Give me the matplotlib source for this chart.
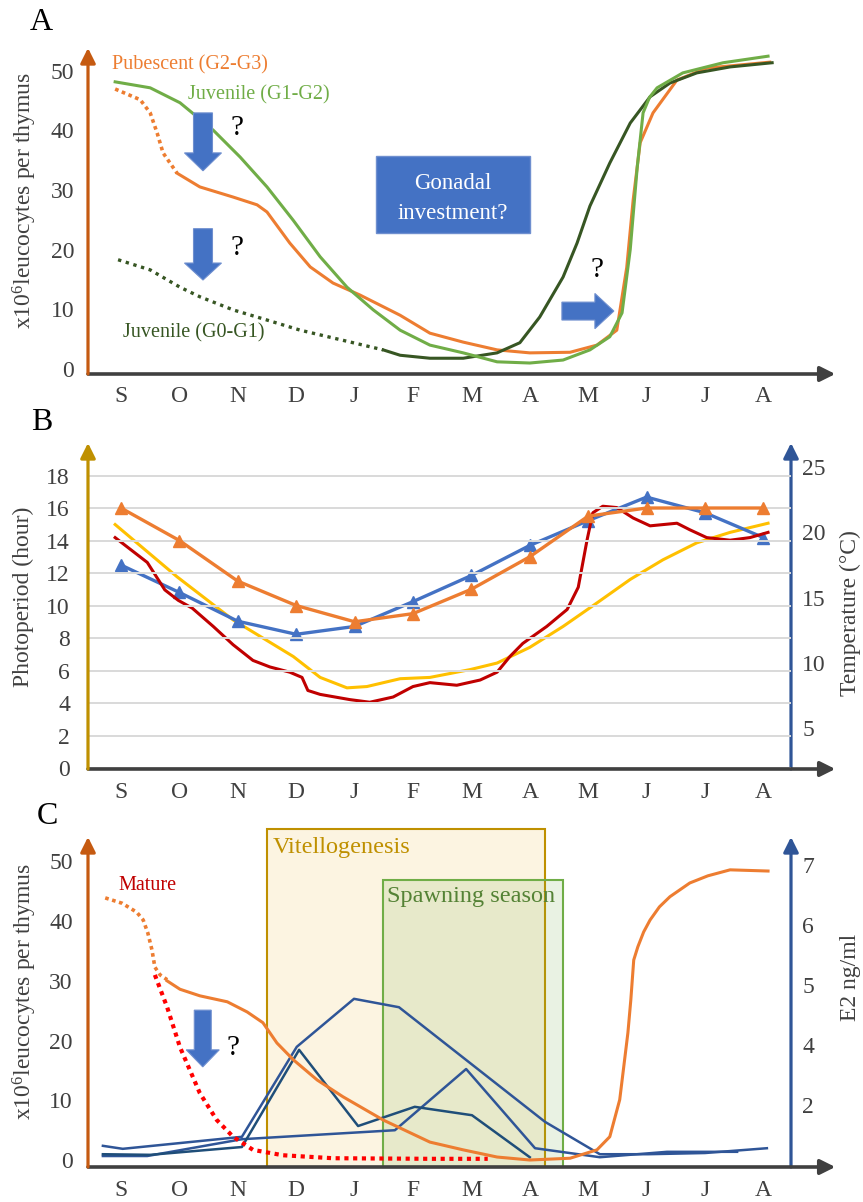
import numpy as np
import matplotlib
matplotlib.use('Agg')
import matplotlib.pyplot as plt
from matplotlib.patches import Rectangle, FancyArrow

plt.rcParams['font.family'] = ['Liberation Serif', 'DejaVu Serif']
plt.rcParams['mathtext.fontset'] = 'custom'
plt.rcParams['mathtext.rm'] = 'Liberation Serif'
plt.rcParams['mathtext.default'] = 'regular'

# ---------------- data ----------------
months = ['S', 'O', 'N', 'D', 'J', 'F', 'M', 'A', 'M', 'J', 'J', 'A']
month_idx = list(range(12))

# Panel A  (x = month index from September, y = x10^6 leucocytes per thymus)
juv_g1g2_x = [-0.10, 0.50, 1.01, 1.58, 2.04, 2.50, 2.95, 3.41, 3.87, 4.32, 4.78, 5.29, 5.86,
              6.44, 7.00, 7.57, 8.03, 8.37, 8.58, 8.72, 8.84, 8.94, 9.05, 9.18, 9.62, 10.31, 11.08]
juv_g1g2_y = [48.1, 47.1, 44.6, 40.0, 35.5, 30.5, 24.9, 18.8, 13.7, 9.9, 6.5, 4.0, 2.7,
              1.2, 1.0, 1.5, 3.2, 5.4, 9.4, 20.0, 33.8, 42.9, 45.5, 47.1, 49.6, 51.3, 52.4]

pub_dot_x = [-0.10, 0.33, 0.50, 0.62, 0.72, 0.96]
pub_dot_y = [46.9, 45.1, 42.9, 39.5, 36.2, 32.8]
pub_x = [0.96, 1.35, 1.92, 2.33, 2.50, 2.65, 2.89, 3.24, 3.63, 4.09, 4.78, 5.29, 5.86, 6.44,
         7.00, 7.69, 8.15, 8.49, 8.66, 8.77, 8.89, 9.11, 9.52, 10.03, 11.11]
pub_y = [32.8, 30.5, 28.8, 27.5, 26.3, 24.3, 21.1, 17.1, 14.4, 12.4, 9.0, 6.0, 4.5, 3.2,
         2.7, 2.8, 4.0, 6.5, 17.0, 28.3, 37.9, 42.9, 48.4, 50.4, 51.4]

juv_g0g1_dot_x = [-0.05, 0.50, 1.01, 1.35, 1.92, 2.50, 3.07, 3.63, 4.49]
juv_g0g1_dot_y = [18.3, 16.6, 13.7, 12.1, 9.9, 8.2, 6.5, 5.2, 3.2]
juv_g0g1_x = [4.49, 4.78, 5.29, 5.86, 6.44, 6.83, 7.17, 7.57, 7.81, 8.03, 8.37, 8.72,
              9.06, 9.40, 9.86, 10.43, 11.15]
juv_g0g1_y = [3.2, 2.3, 1.8, 1.8, 2.7, 4.4, 8.7, 15.4, 21.1, 27.3, 34.5, 41.2,
              45.6, 47.9, 49.6, 50.6, 51.3]

# Panel B
photoperiod = [16, 14, 11.5, 10, 9, 9.5, 11, 13, 15.5, 16, 16, 16]
temp_blue = [17.5, 15.4, 13.2, 12.2, 12.8, 14.7, 16.7, 19.0, 20.9, 22.7, 21.5, 19.6]
temp_red_x = [-0.10, 0.45, 0.75, 0.98, 1.22, 1.58, 1.92, 2.26, 2.55, 2.89, 3.10, 3.20, 3.41,
              3.92, 4.26, 4.66, 5.00, 5.29, 5.75, 6.15, 6.44, 6.66, 6.88, 7.29, 7.64, 7.83,
              7.98, 8.08, 8.25, 8.49, 8.77, 9.06, 9.52, 9.74, 10.03, 10.43, 10.77, 11.08]
temp_red_y = [19.6, 17.7, 15.6, 14.8, 14.2, 12.8, 11.4, 10.2, 9.7, 9.3, 8.9, 7.9, 7.6,
              7.2, 7.0, 7.4, 8.2, 8.5, 8.3, 8.7, 9.3, 10.5, 11.5, 12.8, 14.1, 15.8,
              19.4, 21.5, 22.0, 21.9, 21.1, 20.5, 20.7, 20.2, 19.6, 19.4, 19.6, 20.0]
temp_yel_x = [-0.10, 0.96, 1.92, 2.95, 3.41, 3.87, 4.21, 4.78, 5.29, 5.98, 6.44, 7.00,
              7.57, 8.15, 8.72, 9.28, 9.86, 10.43, 11.08]
temp_yel_y = [20.6, 16.6, 13.3, 10.5, 8.9, 8.1, 8.2, 8.8, 8.9, 9.5, 10.0, 11.2,
              12.8, 14.6, 16.4, 17.9, 19.2, 20.0, 20.7]

# Panel C
mat_dot_x = [-0.27, 0.02, 0.27, 0.38, 0.46, 0.53, 0.58, 0.67, 0.79]
mat_dot_y = [43.9, 43.0, 41.5, 40.2, 38.0, 35.2, 32.3, 31.0, 30.2]
mat_x = [0.79, 1.01, 1.35, 1.82, 2.16, 2.43, 2.67, 2.95, 3.36, 3.80, 4.49, 5.29, 5.86, 6.44,
         7.00, 7.69, 8.15, 8.37, 8.54, 8.68, 8.73, 8.78, 8.85, 8.95, 9.06, 9.22, 9.40, 9.74,
         10.05, 10.43, 11.08]
mat_y = [30.0, 28.6, 27.5, 26.5, 24.8, 23.0, 19.6, 16.8, 13.4, 10.6, 6.7, 3.0, 1.7, 0.5,
         0.0, 0.3, 1.7, 3.9, 10.1, 21.3, 26.8, 33.5, 35.7, 38.2, 40.2, 42.4, 44.1, 46.4,
         47.6, 48.6, 48.4]
red_x = [0.58, 0.79, 1.01, 1.35, 1.64, 1.92, 2.26, 2.77, 3.63, 5.29, 6.28]
red_y = [31.0, 25.6, 18.9, 11.2, 6.7, 3.9, 1.7, 0.8, 0.3, 0.2, 0.2]

# E2 curves, in positions of the right-hand axis (its lowest label "2" sits at position 3)
e2_1_x = [-0.31, 0.03, 2.07, 3.01, 3.99, 4.76, 7.26, 8.20, 9.02, 10.00, 11.06]
e2_1_y = [2.32, 2.27, 2.47, 3.97, 4.77, 4.63, 2.72, 2.18, 2.18, 2.20, 2.28]
e2_2_x = [-0.31, 0.50, 2.07, 3.05, 4.06, 5.03, 6.01, 7.00]
e2_2_y = [2.18, 2.17, 2.30, 3.92, 2.65, 2.97, 2.83, 2.13]
e2_3_x = [-0.31, 0.45, 2.07, 4.69, 5.91, 7.09, 8.20, 9.35, 10.55]
e2_3_y = [2.15, 2.15, 2.43, 2.58, 3.60, 2.28, 2.13, 2.22, 2.22]
e2_ticks = [3, 4, 5, 6, 7]
e2_ticklabels = ['2', '4', '5', '6', '7']

vit_span = (2.50, 7.26)
spawn_span = (4.49, 7.57)

# ---------------- figure ----------------
W, H = 863, 1202
fig = plt.figure(figsize=(W / 100, H / 100), dpi=100)
TXT = '#404040'
ORANGE, GREEN, DKGREEN = '#ED7D31', '#70AD47', '#375623'
BLUE, NAVY = '#4472C4', '#2F5597'
XMIN, XMAX = -0.565, 11.473


def px_axes(left, top, right, bottom):
    return fig.add_axes([left / W, 1 - bottom / H, (right - left) / W, (bottom - top) / H])


def axis_arrow(ax, xy, xytext, color, lw=2.3):
    ax.annotate('', xy=xy, xytext=xytext, xycoords='axes fraction',
                arrowprops=dict(arrowstyle='-|>,head_length=0.9,head_width=0.45',
                                lw=lw, color=color, shrinkA=0, shrinkB=0))


def style(ax, left_color, ypad):
    for s in ax.spines.values():
        s.set_visible(False)
    ax.set_xlim(XMIN, XMAX)
    ax.set_xticks(month_idx)
    ax.set_xticklabels(months)
    ax.tick_params(axis='x', length=0, pad=9, labelsize=17, labelcolor=TXT)
    ax.tick_params(axis='y', length=0, pad=ypad, labelsize=17, labelcolor=TXT)
    axis_arrow(ax, (1.063, 0), (0, 0), '#404040', lw=2.6)
    axis_arrow(ax, (0, 1), (0, 0), left_color)


def block_arrow(ax, x, y, dx, dy, w, hw, hl):
    ax.add_patch(FancyArrow(x, y, dx, dy, width=w, head_width=hw, head_length=hl,
                            length_includes_head=True, facecolor=BLUE,
                            edgecolor='#6F8FCF', lw=0.8, zorder=5))


# ---- Panel A ----
axA = px_axes(88, 48, 791, 374)
style(axA, '#C55A11', 10)
axA.set_ylim(-0.84, 53.77)
axA.set_yticks(range(0, 51, 10))
axA.plot(pub_dot_x, pub_dot_y, color=ORANGE, lw=2.6, ls=(0, (1, 1)))
axA.plot(pub_x, pub_y, color=ORANGE, lw=2.2)
axA.plot(juv_g0g1_dot_x, juv_g0g1_dot_y, color=DKGREEN, lw=2.4, ls=(0, (1, 1.4)))
axA.plot(juv_g0g1_x, juv_g0g1_y, color=DKGREEN, lw=2.2)
axA.plot(juv_g1g2_x, juv_g1g2_y, color=GREEN, lw=2.2)
axA.text(-0.15, 50.9, 'Pubescent (G2-G3)', color=ORANGE, fontsize=14.5, va='center')
axA.text(1.14, 45.9, 'Juvenile (G1-G2)', color=GREEN, fontsize=14.5, va='center')
axA.text(0.03, 6.0, 'Juvenile (G0-G1)', color=DKGREEN, fontsize=14.5, va='center')
block_arrow(axA, 1.404, 42.9, 0, -9.7, 0.325, 0.634, 3.0)
block_arrow(axA, 1.404, 23.5, 0, -8.6, 0.325, 0.634, 2.85)
block_arrow(axA, 7.55, 9.7, 0.89, 0, 3.0, 5.9, 0.325)
for qx, qy in [(1.99, 40.4), (1.99, 20.3), (8.15, 16.6)]:
    axA.text(qx, qy, '?', fontsize=21, ha='center', va='center', color='black')
axA.add_patch(Rectangle((4.37, 22.8), 2.63, 12.9, facecolor=BLUE, edgecolor='#6F8FCF',
                        lw=1, zorder=4))
axA.text(5.685, 31.0, 'Gonadal', color='white', fontsize=16.5, ha='center', va='center', zorder=6)
axA.text(5.685, 26.1, 'investment?', color='white', fontsize=16.5, ha='center', va='center', zorder=6)

# ---- Panel B ----
axB = px_axes(88, 443, 791, 769)
axB2 = axB.twinx()
style(axB, '#BF9000', 13)
axB.set_ylim(-0.06, 20.0)
axB.set_yticks(range(0, 19, 2))
axB.grid(axis='y', color='#D9D9D9', lw=1.4)
axB.set_axisbelow(True)
for s in axB2.spines.values():
    s.set_visible(False)
axB2.set_ylim(1.89, 26.84)
axB2.set_yticks([5, 10, 15, 20, 25])
axB2.tick_params(axis='y', length=0, pad=8, labelsize=17, labelcolor=TXT)
axis_arrow(axB2, (1, 1), (1, 0), NAVY)
axB2.plot(temp_yel_x, temp_yel_y, color='#FFC000', lw=2.2)
axB2.plot(month_idx, temp_blue, color=BLUE, lw=2.4, marker='^', ms=8)
axB2.plot(temp_red_x, temp_red_y, color='#C00000', lw=2.2)
axB.plot(month_idx, photoperiod, color=ORANGE, lw=2.4, marker='^', ms=8)
axB.set_zorder(axB2.get_zorder() + 1)
axB.patch.set_visible(False)

# ---- Panel C ----
axC = px_axes(88, 837, 791, 1167)
axC2 = axC.twinx()
style(axC, '#C55A11', 11)
axC.set_ylim(-1.17, 54.10)
axC.set_yticks(range(0, 51, 10))
for s in axC2.spines.values():
    s.set_visible(False)
axC2.set_ylim(1.967, 7.467)
axC2.set_yticks(e2_ticks)
axC2.set_yticklabels(e2_ticklabels)
axC2.tick_params(axis='y', length=0, pad=8, labelsize=17, labelcolor=TXT)
axis_arrow(axC2, (1, 1), (1, 0), NAVY)
tr = axC2.get_xaxis_transform()
axC2.add_patch(Rectangle((vit_span[0], 0), vit_span[1] - vit_span[0], 1.024, transform=tr,
                         facecolor='#FCF4E1', edgecolor='#BF9000', lw=1.5, clip_on=False))
axC2.add_patch(Rectangle((spawn_span[0], 0), spawn_span[1] - spawn_span[0], 0.87, transform=tr,
                         facecolor=(0.44, 0.68, 0.28, 0.15), edgecolor='#70AD47', lw=1.5,
                         clip_on=False))
axC2.text(2.60, 0.967, 'Vitellogenesis', transform=tr, color='#BF9000', fontsize=17.5, va='center')
axC2.text(4.55, 0.821, 'Spawning season', transform=tr, color='#548235', fontsize=17.5, va='center')
axC2.plot(e2_3_x, e2_3_y, color=NAVY, lw=1.8)
axC2.plot(e2_2_x, e2_2_y, color='#1F4E79', lw=1.8)
axC2.plot(e2_1_x, e2_1_y, color=NAVY, lw=1.8)
axC.set_zorder(axC2.get_zorder() + 1)
axC.patch.set_visible(False)
axC.plot(mat_dot_x, mat_dot_y, color=ORANGE, lw=2.6, ls=(0, (1, 1)))
axC.plot(mat_x, mat_y, color=ORANGE, lw=2.2)
axC.plot(red_x, red_y, color='#FF0000', lw=3.0, ls=(0, (1, 1.1)))
axC.text(-0.05, 46.0, 'Mature', color='#C00000', fontsize=14.5, va='center')
block_arrow(axC, 1.40, 25.1, 0, -9.5, 0.29, 0.565, 2.85)
axC.text(1.92, 18.8, '?', fontsize=21, ha='center', va='center', color='black')

# ---- axis titles and panel letters ----
ylab = 'x10$^{6}$leucocytes per thymus'
fig.text(25 / W, 1 - 201 / H, ylab, rotation=90, ha='center', va='center', fontsize=17, color=TXT)
fig.text(23 / W, 1 - 597 / H, 'Photoperiod (hour)', rotation=90, ha='center', va='center',
         fontsize=17, color=TXT)
fig.text(850 / W, 1 - 613 / H, 'Temperature (°C)', rotation=90, ha='center', va='center',
         fontsize=17, color=TXT)
fig.text(25 / W, 1 - 992 / H, ylab, rotation=90, ha='center', va='center', fontsize=17, color=TXT)
fig.text(850 / W, 1 - 977 / H, 'E2 ng/ml', rotation=90, ha='center', va='center',
         fontsize=17, color=TXT)
for lab, x, y in [('A', 41, 22), ('B', 42, 423), ('C', 47, 816)]:
    fig.text(x / W, 1 - y / H, lab, ha='center', va='center', fontsize=23, color='black')

fig.savefig('out.png', dpi=100)
